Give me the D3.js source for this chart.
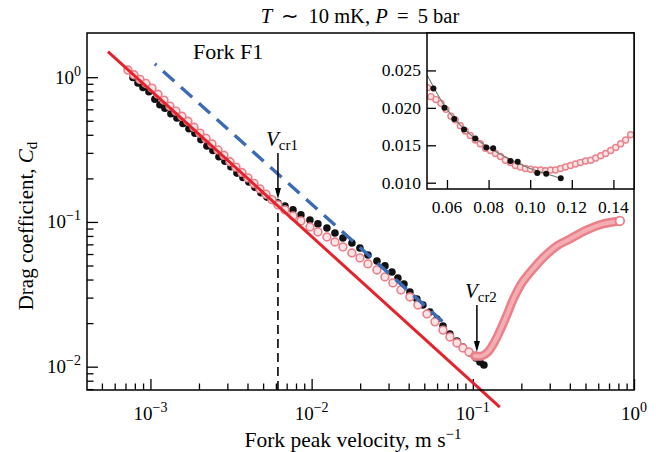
<!DOCTYPE html>
<html>
<head>
<meta charset="utf-8">
<script src="https://cdn.jsdelivr.net/npm/d3@7"></script>
<style>
  body { margin: 0; background: #fff; }
  svg { display: block; font-family: "Liberation Serif", "Times New Roman", serif; }
</style>
</head>
<body>
<svg id="chart" width="656" height="452"></svg>
<script>
// Fork F1: drag coefficient versus fork peak velocity (T ~ 10 mK, P = 5 bar)

// filled black points: velocity (m/s) and drag coefficient
const blackV = [7.79e-4, 8.37e-4, 8.99e-4, 9.79e-4, 1.066e-3, 1.145e-3, 1.23e-3, 1.34e-3, 1.46e-3, 1.591e-3,
  1.733e-3, 1.888e-3, 2.057e-3, 2.241e-3, 2.442e-3, 2.66e-3, 2.899e-3, 3.158e-3, 3.441e-3, 3.749e-3,
  4.083e-3, 4.449e-3, 4.849e-3, 5.282e-3, 5.754e-3, 6.18e-3, 6.83e-3, 7.66e-3, 8.58e-3, 9.76e-3,
  1.094e-2, 1.244e-2, 1.395e-2, 1.564e-2, 1.778e-2, 1.993e-2, 2.235e-2, 2.542e-2, 2.85e-2, 3.149e-2,
  3.43e-2, 3.74e-2, 4.07e-2, 4.5e-2, 4.9e-2, 5.42e-2, 5.99e-2, 6.53e-2, 7.21e-2, 7.97e-2,
  8.68e-2, 9.59e-2, 0.1045, 0.1107, 0.1172];
const blackC = [0.997, 0.913, 0.85, 0.793, 0.705, 0.645, 0.611, 0.56, 0.522, 0.479,
  0.44, 0.41, 0.3705, 0.3345, 0.312, 0.2818, 0.2627, 0.2407, 0.2174, 0.2027,
  0.189, 0.1734, 0.1591, 0.1484, 0.1405, 0.1353, 0.129, 0.1211, 0.1118, 0.1032,
  0.0969, 0.0909, 0.0839, 0.0775, 0.0716, 0.0661, 0.0591, 0.0537, 0.0497, 0.0451,
  0.041, 0.0373, 0.0328, 0.02937, 0.0267, 0.02388, 0.02136, 0.01911, 0.01683, 0.01505,
  0.01368, 0.01244, 0.01148, 0.01078, 0.01027];

// open pink points (descending branch)
const pinkV = [7.25e-4, 7.9e-4, 8.61e-4, 9.38e-4, 1.022e-3, 1.113e-3, 1.213e-3, 1.321e-3, 1.439e-3, 1.568e-3,
  1.708e-3, 1.862e-3, 2.028e-3, 2.21e-3, 2.407e-3, 2.623e-3, 2.858e-3, 3.113e-3, 3.392e-3, 3.695e-3,
  4.025e-3, 4.386e-3, 4.778e-3, 5.207e-3, 5.672e-3, 6.18e-3, 6.83e-3, 7.66e-3, 8.58e-3, 9.76e-3,
  1.094e-2, 1.244e-2, 1.395e-2, 1.564e-2, 1.778e-2, 1.993e-2, 2.235e-2, 2.542e-2, 2.85e-2, 3.194e-2,
  3.581e-2, 4.07e-2, 4.564e-2, 5.191e-2, 5.821e-2, 6.53e-2, 7.21e-2, 7.97e-2, 8.68e-2, 9.458e-2, 0.103];
const pinkC = [1.12, 1.04, 0.965, 0.905, 0.84, 0.762, 0.694, 0.631, 0.583, 0.537,
  0.496, 0.451, 0.411, 0.3775, 0.346, 0.3145, 0.2886, 0.2606, 0.2391, 0.2195,
  0.2015, 0.1845, 0.1693, 0.1555, 0.1427, 0.1311, 0.1211, 0.11, 0.1016, 0.0923,
  0.0853, 0.0787, 0.0727, 0.0672, 0.061, 0.0564, 0.0513, 0.0466, 0.0417, 0.0379,
  0.0339, 0.0303, 0.0267, 0.0231, 0.0204, 0.0179, 0.01604, 0.01458, 0.01346, 0.01264, 0.01186];

// pink branch rising beyond V_cr2 (dense points, drawn as a band)
const riseV = [0.103, 0.1139, 0.1241, 0.1352, 0.1473, 0.1627, 0.1799, 0.2016, 0.236, 0.2802,
  0.3324, 0.4004, 0.5105, 0.6412, 0.8174];
const riseC = [0.01186, 0.01186, 0.01264, 0.01458, 0.01765, 0.02277, 0.02984, 0.0379, 0.0473, 0.0582,
  0.0683, 0.0763, 0.0881, 0.0969, 0.1016];

// reference lines, C_d proportional to 1/V
const redLineV = [5.45e-4, 0.147];
const redLineC = [1.50, 5.25e-3];
const blueLineV = [1.066e-3, 0.0653];
const blueLineC = [1.236, 0.0204];

// critical velocities and the drag value each arrow points to
const vCr1 = 6.18e-3, cCr1 = 0.144;
const vCr2 = 0.106, cCr2 = 0.01264;

// main axis decades
const xMajorExp = [-3, -2, -1, 0];
const yMajorExp = [-2, -1, 0];

// inset: linear zoom around the minimum
const insetBlackV = [0.0535, 0.0588, 0.0635, 0.0682, 0.0736, 0.0789, 0.0822, 0.0905, 0.094, 0.1034, 0.1077, 0.1147];
const insetBlackC = [0.0226, 0.02, 0.0185, 0.0171, 0.0159, 0.0147, 0.0146, 0.0129, 0.0128, 0.0113, 0.0112, 0.0106];
const insetPinkV = [0.0507, 0.0523, 0.0547, 0.0571, 0.0595, 0.0619, 0.064, 0.0664, 0.0688, 0.0712,
  0.0736, 0.076, 0.0785, 0.0809, 0.0833, 0.0857, 0.0881, 0.0905, 0.0929, 0.0953,
  0.0977, 0.1001, 0.1026, 0.105, 0.1074, 0.1098, 0.1122, 0.1146, 0.117, 0.1194,
  0.1218, 0.1242, 0.1266, 0.1291, 0.1315, 0.1339, 0.1363, 0.1387, 0.1411, 0.1435, 0.1459, 0.1483];
const insetPinkC = [0.0227, 0.0215, 0.0211, 0.0206, 0.0198, 0.0189, 0.0184, 0.0176, 0.0169, 0.0163,
  0.0157, 0.0152, 0.0146, 0.0143, 0.0139, 0.0135, 0.013, 0.0127, 0.0123, 0.0121,
  0.0119, 0.0118, 0.0117, 0.0117, 0.0116, 0.0117, 0.0117, 0.0119, 0.0121, 0.0123,
  0.0125, 0.0127, 0.0129, 0.013, 0.0133, 0.0136, 0.0139, 0.0143, 0.0147, 0.0152, 0.0157, 0.0164];
const insetFitV = [0.0504, 0.0535, 0.0588, 0.0635, 0.0682, 0.0736, 0.0789, 0.085, 0.092, 0.1, 0.1077, 0.1147];
const insetFitC = [0.0244, 0.0228, 0.0203, 0.0186, 0.0172, 0.0159, 0.0149, 0.0139, 0.0129, 0.0119, 0.0112, 0.0106];
const insetXTicks = [0.06, 0.08, 0.10, 0.12, 0.14];
const insetYTicks = [0.010, 0.015, 0.020, 0.025];

const zip = (a, b) => a.map((v, i) => [v, b[i]]);

const svg = d3.select('#chart');
const M = { left: 87, right: 634, top: 33, bottom: 390 };
const x = d3.scaleLog().domain([4.04e-4, 1]).range([M.left, M.right]);
const y = d3.scaleLog().domain([6.9e-3, 2.02]).range([M.bottom, M.top]);

const RED = '#e4232c', PINK = '#e9808a', PINKFILL = '#fce4e6', BLUE = '#3c6bb4';

// --- axes (inward ticks on bottom and left) ---
const isPow10 = v => Math.abs(Math.log10(v) - Math.round(Math.log10(v))) < 1e-9;
const xMajor = xMajorExp.map(e => Math.pow(10, e));
const yMajor = yMajorExp.map(e => Math.pow(10, e));
const xMinor = x.ticks().filter(v => !isPow10(v));
const yMinor = y.ticks().filter(v => !isPow10(v) && y(v) > M.top + 2);

function axisStyle(g) {
  g.select('.domain').remove();
  g.selectAll('line').attr('stroke', '#000').attr('stroke-width', 1.3);
}
svg.append('g').attr('transform', `translate(0,${M.bottom})`)
  .call(d3.axisBottom(x).tickValues(xMajor).tickSize(-11).tickFormat('')).call(axisStyle);
svg.append('g').attr('transform', `translate(0,${M.bottom})`)
  .call(d3.axisBottom(x).tickValues(xMinor).tickSize(-6.5).tickFormat('')).call(axisStyle);
svg.append('g').attr('transform', `translate(${M.left},0)`)
  .call(d3.axisLeft(y).tickValues(yMajor).tickSize(-11).tickFormat('')).call(axisStyle);
svg.append('g').attr('transform', `translate(${M.left},0)`)
  .call(d3.axisLeft(y).tickValues(yMinor).tickSize(-6.5).tickFormat('')).call(axisStyle);

function powLabel(t, e) {
  t.append('tspan').text('10');
  t.append('tspan').attr('dy', -8).attr('font-size', 14).text(e < 0 ? '\u2212' + (-e) : String(e));
}
xMajorExp.forEach(e => {
  const t = svg.append('text').attr('x', x(Math.pow(10, e))).attr('y', 420)
    .attr('text-anchor', 'middle').attr('font-size', 19);
  powLabel(t, e);
});
yMajorExp.forEach(e => {
  const t = svg.append('text').attr('x', 81).attr('y', y(Math.pow(10, e)) + 6.5)
    .attr('text-anchor', 'end').attr('font-size', 19);
  powLabel(t, e);
});

// axis titles
const xt = svg.append('text').attr('x', 353).attr('y', 447).attr('text-anchor', 'middle').attr('font-size', 21.5);
xt.append('tspan').text('Fork peak velocity, m s');
xt.append('tspan').attr('dy', -8).attr('font-size', 15).text('\u22121');

const yt = svg.append('text').attr('transform', 'translate(33,226) rotate(-90)')
  .attr('text-anchor', 'middle').attr('font-size', 21);
yt.append('tspan').text('Drag coefficient, ');
yt.append('tspan').attr('font-style', 'italic').text('C');
yt.append('tspan').attr('dy', 4).attr('font-size', 15).text('d');

// title
const tt = svg.append('text').attr('x', 360).attr('y', 23).attr('text-anchor', 'middle').attr('font-size', 20.5);
tt.append('tspan').attr('font-style', 'italic').text('T');
tt.append('tspan').text('\u2009 \u223C \u200910 mK, ');
tt.append('tspan').attr('font-style', 'italic').text('P');
tt.append('tspan').text('\u2009 = \u20095 bar');

svg.append('text').attr('x', 193).attr('y', 58.5).attr('font-size', 22).text('Fork F1');

// --- critical-velocity marker (dashed drop line) ---
svg.append('line')
  .attr('x1', x(vCr1)).attr('x2', x(vCr1))
  .attr('y1', y(cCr1)).attr('y2', M.bottom)
  .attr('stroke', '#000').attr('stroke-width', 1.6).attr('stroke-dasharray', '9,5');

// --- data ---
const line = d3.line().x(d => x(d[0])).y(d => y(d[1]));

svg.append('g').selectAll('circle').data(zip(blackV, blackC)).join('circle')
  .attr('cx', d => x(d[0])).attr('cy', d => y(d[1])).attr('r', 3.8).attr('fill', '#111');

svg.append('g').selectAll('circle').data(zip(pinkV, pinkC)).join('circle')
  .attr('cx', d => x(d[0])).attr('cy', d => y(d[1])).attr('r', 3.9)
  .attr('fill', PINKFILL).attr('stroke', PINK).attr('stroke-width', 1.6);

svg.append('path').datum(zip(redLineV, redLineC)).attr('d', line)
  .attr('fill', 'none').attr('stroke', RED).attr('stroke-width', 3);

svg.append('path').datum(zip(blueLineV, blueLineC)).attr('d', line)
  .attr('fill', 'none').attr('stroke', BLUE).attr('stroke-width', 3.4)
  .attr('stroke-dasharray', '15,9').attr('stroke-dashoffset', 13);

const rise = zip(riseV, riseC);
const bandLine = line.curve(d3.curveCatmullRom);
svg.append('path').datum(rise).attr('d', bandLine)
  .attr('fill', 'none').attr('stroke', PINK).attr('stroke-width', 9).attr('stroke-linecap', 'round');
svg.append('path').datum(rise).attr('d', bandLine)
  .attr('fill', 'none').attr('stroke', '#f4aeb3').attr('stroke-width', 4).attr('stroke-linecap', 'round');
const last = rise[rise.length - 1];
svg.append('circle').attr('cx', x(last[0])).attr('cy', y(last[1])).attr('r', 4.3)
  .attr('fill', '#fff').attr('stroke', PINK).attr('stroke-width', 1.8);

// --- arrows marking V_cr1 and V_cr2 ---
function arrow(xp, tip, len) {
  svg.append('line').attr('x1', xp).attr('x2', xp).attr('y1', tip - len).attr('y2', tip - 6)
    .attr('stroke', '#000').attr('stroke-width', 1.5);
  svg.append('path').attr('d', `M${xp - 3},${tip - 11} L${xp + 3},${tip - 11} L${xp},${tip} Z`).attr('fill', '#000');
}
arrow(x(vCr1), y(cCr1), 46);
arrow(x(vCr2), y(cCr2), 47);

function vLabel(xp, yp, sub) {
  const t = svg.append('text').attr('x', xp).attr('y', yp).attr('font-size', 21);
  t.append('tspan').attr('font-style', 'italic').text('V');
  t.append('tspan').attr('dy', 4).attr('font-size', 15).text(sub);
}
vLabel(x(vCr1) - 12, y(cCr1) - 53, 'cr1');
vLabel(x(vCr2) - 12, y(cCr2) - 54, 'cr2');

// --- main frame ---
svg.append('rect').attr('x', M.left).attr('y', M.top)
  .attr('width', M.right - M.left).attr('height', M.bottom - M.top)
  .attr('fill', 'none').attr('stroke', '#000').attr('stroke-width', 1.5);

// --- inset ---
const I = { left: 427, right: 634, top: 33, bottom: 189 };
const xi = d3.scaleLinear().domain([0.0504, 0.1499]).range([I.left, I.right]);
const yi = d3.scaleLinear().domain([0.00916, 0.0300]).range([I.bottom, I.top]);

svg.append('rect').attr('x', I.left).attr('y', I.top)
  .attr('width', I.right - I.left).attr('height', I.bottom - I.top).attr('fill', '#fff');

svg.append('defs').append('clipPath').attr('id', 'insetClip')
  .append('rect').attr('x', I.left).attr('y', I.top)
  .attr('width', I.right - I.left).attr('height', I.bottom - I.top);
const ig = svg.append('g').attr('clip-path', 'url(#insetClip)');

ig.selectAll('circle.p').data(zip(insetPinkV, insetPinkC)).join('circle').attr('class', 'p')
  .attr('cx', d => xi(d[0])).attr('cy', d => yi(d[1])).attr('r', 3)
  .attr('fill', PINKFILL).attr('stroke', PINK).attr('stroke-width', 1.4);
ig.append('path').datum(zip(insetFitV, insetFitC))
  .attr('d', d3.line().x(d => xi(d[0])).y(d => yi(d[1])).curve(d3.curveMonotoneX))
  .attr('fill', 'none').attr('stroke', '#6f7a72').attr('stroke-width', 1.1);
ig.selectAll('circle.b').data(zip(insetBlackV, insetBlackC)).join('circle').attr('class', 'b')
  .attr('cx', d => xi(d[0])).attr('cy', d => yi(d[1])).attr('r', 3).attr('fill', '#111');

svg.append('g').attr('transform', `translate(0,${I.bottom})`)
  .call(d3.axisBottom(xi).tickValues(insetXTicks).tickSize(-9).tickFormat('')).call(axisStyle);
svg.append('g').attr('transform', `translate(${I.left},0)`)
  .call(d3.axisLeft(yi).tickValues(insetYTicks).tickSize(-9).tickFormat('')).call(axisStyle);

svg.append('g').selectAll('text').data(insetXTicks).join('text')
  .attr('x', d => xi(d)).attr('y', 213).attr('text-anchor', 'middle').attr('font-size', 17.5)
  .text(d => d.toFixed(2));
svg.append('g').selectAll('text').data(insetYTicks).join('text')
  .attr('x', I.left - 6).attr('y', d => yi(d) + 6).attr('text-anchor', 'end').attr('font-size', 17.5)
  .text(d => d.toFixed(3));

svg.append('rect').attr('x', I.left).attr('y', I.top)
  .attr('width', I.right - I.left).attr('height', I.bottom - I.top)
  .attr('fill', 'none').attr('stroke', '#000').attr('stroke-width', 1.5);
</script>
</body>
</html>
